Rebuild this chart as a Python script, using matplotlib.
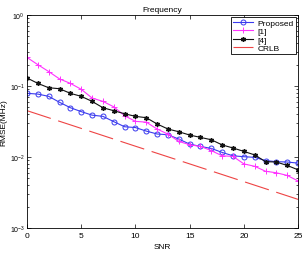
import matplotlib
matplotlib.use('Agg')
import matplotlib.pyplot as plt
from matplotlib.ticker import LogLocator, NullFormatter

# Data
snr = list(range(0, 26))
proposed = [0.079, 0.077, 0.0716, 0.059, 0.0495, 0.0436, 0.0389, 0.0374, 0.0315, 0.0267,
            0.026, 0.0232, 0.0211, 0.0206, 0.0179, 0.0152, 0.0141, 0.0132, 0.0116, 0.0104,
            0.0101, 0.0099, 0.0089, 0.0086, 0.0085, 0.0082]
ref1 = [0.253, 0.2, 0.16, 0.126, 0.109, 0.09, 0.0678, 0.0608, 0.051, 0.0382,
        0.0318, 0.031, 0.0248, 0.021, 0.0166, 0.0149, 0.0141, 0.0123, 0.0104, 0.0102,
        0.0080, 0.0074, 0.0063, 0.006, 0.0055, 0.0046]
ref4 = [0.13, 0.109, 0.0946, 0.0917, 0.0789, 0.0716, 0.0608, 0.0495, 0.0449, 0.0407,
        0.0374, 0.0358, 0.0292, 0.0248, 0.0227, 0.0204, 0.0189, 0.0175, 0.0148, 0.0134,
        0.012, 0.0107, 0.0086, 0.0085, 0.0076, 0.0066]
crlb_snr = [0, 5, 10, 15, 20, 25]
crlb = [0.045, 0.0253, 0.0142, 0.0080, 0.0045, 0.00253]

plt.rcParams['font.family'] = ['Liberation Sans', 'DejaVu Sans']
plt.rcParams['mathtext.fontset'] = 'custom'
plt.rcParams['mathtext.rm'] = 'Liberation Sans'

fig = plt.figure(figsize=(3.02, 2.55), dpi=100)
ax = fig.add_axes([0.0894, 0.102, 0.8976, 0.835])

ax.semilogy(snr, proposed, color='#3a3aee', lw=0.8, marker='o', ms=3.6,
            mfc='none', mew=0.7, label='Proposed')
ax.semilogy(snr, ref1, color='#ff33ff', lw=0.8, marker='+', ms=4, mew=0.7, label='[1]')
ax.semilogy(snr, ref4, color='#111111', lw=0.8, marker=(6, 2, 0), ms=3.5, mew=1.0, label='[4]')
# dash pattern given in multiples of the line width (0.8 pt): ~18 pt on, ~5.5 pt off
crlb_line, = ax.semilogy(crlb_snr, crlb, color='#ee4444', lw=0.8, label='CRLB')
crlb_line.set_linestyle((0, (22.5, 7)))

ax.set_xlim(0, 25)
ax.set_ylim(1e-3, 1)
ax.set_xticks([0, 5, 10, 15, 20, 25])
ax.yaxis.set_major_locator(LogLocator(base=10, numticks=10))
ax.yaxis.set_minor_locator(LogLocator(base=10, subs=range(2, 10), numticks=10))
ax.yaxis.set_minor_formatter(NullFormatter())
ax.tick_params(which='both', direction='in', top=True, right=True, width=0.5)
ax.tick_params(axis='x', labelsize=6, pad=3)
ax.tick_params(axis='y', labelsize=5, pad=1.5)
ax.tick_params(which='major', length=3)
ax.tick_params(which='minor', length=1.5)
for s in ax.spines.values():
    s.set_linewidth(0.6)

ax.set_title('Frequency', fontsize=6, pad=3)
ax.set_xlabel('SNR', fontsize=6, labelpad=3)
ax.set_ylabel('RMSE(MHz)', fontsize=6, labelpad=0)
ax.yaxis.set_label_coords(-0.072, 0.5)
leg = ax.legend(loc='upper right', fontsize=6, frameon=True, fancybox=False, edgecolor='black',
                framealpha=1, borderpad=0.25, labelspacing=0.05, handlelength=2.4,
                handletextpad=0.6, borderaxespad=0.25)
leg.get_frame().set_linewidth(0.6)

fig.savefig('out.png', dpi=100)
